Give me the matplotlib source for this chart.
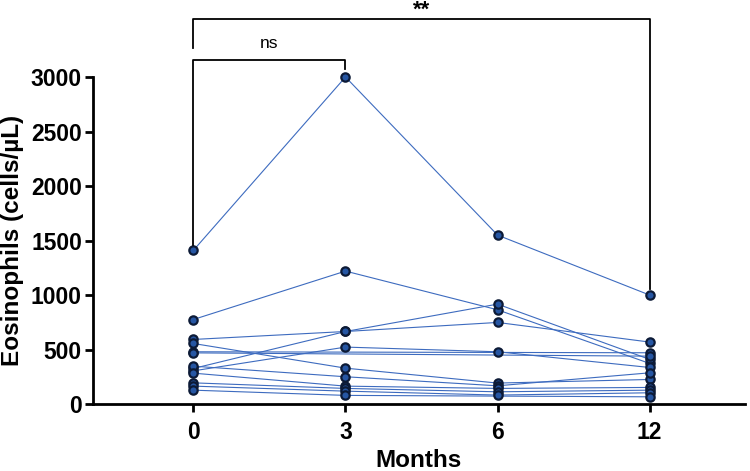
import numpy as np
import matplotlib
matplotlib.use("Agg")
import matplotlib.pyplot as plt

plt.rcParams['font.family'] = ['Liberation Sans', 'DejaVu Sans']

# data (nan = no point at that visit)
months = ['0', '3', '6', '12']
subjects = [
    [1410, 3000, 1550, 1000],
    [776, 1220, 865, 373],
    [593, 666, 749, 569],
    [327, 666, 917, 410],
    [556, 330, 193, 226],
    [305, 523, 480, 336],
    [480, np.nan, np.nan, 471],
    [348, 251, 168, 287],
    [284, 165, 144, 153],
    [195, 144, 113, 128],
    [165, 119, 83, 104],
    [128, 80, np.nan, 67],
    [470, np.nan, np.nan, 440],
]
yticks = [0, 500, 1000, 1500, 2000, 2500, 3000]

line_col = '#3d6bbf'
face_col = '#2656a3'
edge_col = '#0c1a36'

fig = plt.figure(figsize=(7.5, 4.71), dpi=100)
ax = fig.add_axes([0.124, 0.142, 0.869, 0.6945])

x = np.arange(len(months))
for s in subjects:
    s = np.array(s, dtype=float)
    m = ~np.isnan(s)
    ax.plot(x[m], s[m], '-', color=line_col, lw=0.8, zorder=2)
for s in subjects:
    s = np.array(s, dtype=float)
    m = ~np.isnan(s)
    ax.plot(x[m], s[m], 'o', ms=6, mfc=face_col, mec=edge_col, mew=1.6,
            zorder=3, clip_on=False)

ax.set_xlim(-0.66, 3.625)
ax.set_ylim(0, 3000)
ax.set_xticks(x)
ax.set_xticklabels(months)
ax.set_yticks(yticks)

for sp in ['top', 'right']:
    ax.spines[sp].set_visible(False)
for sp in ['left', 'bottom']:
    ax.spines[sp].set_linewidth(2)
ax.tick_params(width=2, length=6, labelsize=16.5, direction='out', pad=2)
ax.tick_params(axis='x', pad=6)
for lab in ax.get_xticklabels() + ax.get_yticklabels():
    lab.set_fontweight('bold')

ax.set_ylabel('Eosinophils (cells/µL)', fontsize=17.5, fontweight='bold', labelpad=5)
ax.set_xlabel('Months', fontsize=17.5, fontweight='bold', labelpad=4)

# significance brackets
bk = dict(color='black', lw=1.3, clip_on=False, zorder=4)
ax.plot([0, 0, 1, 1], [1460, 3155, 3155, 3070], **bk)
ax.text(0.5, 3240, 'ns', ha='center', va='bottom', fontsize=12.5)
ax.plot([0, 0, 3, 3], [3265, 3530, 3530, 1060], **bk)
ax.text(1.5, 3560, '**', ha='center', va='baseline', fontsize=16, fontweight='bold')

fig.savefig('out.png', dpi=100)
